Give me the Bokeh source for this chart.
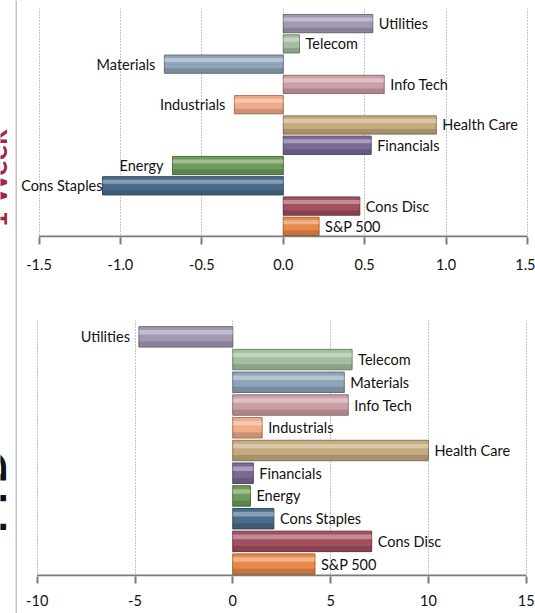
import math
import numpy as np
from bokeh.plotting import figure
from bokeh.layouts import column, row
from bokeh.models import Range1d, FixedTicker, NumeralTickFormatter, Label, LabelSet, ColumnDataSource, Span
from bokeh.core.properties import value
from bokeh.embed import file_html
from bokeh.resources import INLINE

# ---- data ----
categories = ["Utilities", "Telecom", "Materials", "Info Tech", "Industrials", "Health Care",
              "Financials", "Energy", "Cons Staples", "Cons Disc", "S&P 500"]
week_vals = [0.55, 0.10, -0.73, 0.62, -0.30, 0.94, 0.54, -0.68, -1.11, 0.47, 0.22]
ytd_vals = [-4.8, 6.1, 5.7, 5.9, 1.5, 10.0, 1.05, 0.9, 2.1, 7.1, 4.2]
colors = ["#a298b2", "#a3bf9f", "#8fa4b9", "#cc9ea6", "#f1ab88", "#c5ab7e",
          "#7b6a94", "#6e9a5a", "#4a6c8b", "#a24f5f", "#e8894a"]
week_ticks = [-1.5, -1.0, -0.5, 0.0, 0.5, 1.0, 1.5]
ytd_ticks = [-10, -5, 0, 5, 10, 15]

FONT = "Lato"
FS = "14.5px"
SIDE_W = 17
TOTAL_W = 535
AXIS_COLOR = "#7a7a7a"


def darker(hx, f=0.7):
    r, g, b = int(hx[1:3], 16), int(hx[3:5], 16), int(hx[5:7], 16)
    return "#%02x%02x%02x" % (int(r * f), int(g * f), int(b * f))


def make_panel(vals, ticks, fmt, height, top_border, bottom_border, px_first, px_last, top_pad, standoff):
    n = len(categories)
    ypos = np.arange(n)[::-1].astype(float)
    vals = np.array(vals, dtype=float)
    # frame spans from the gray border line to the right page edge; place ticks at the wanted pixels
    left_px, right_px = SIDE_W, TOTAL_W
    upp = (ticks[-1] - ticks[0]) / (px_last - px_first)
    x0 = ticks[0] - (px_first - left_px) * upp
    x1 = ticks[-1] + (right_px - px_last) * upp
    plot_h = height - top_border - bottom_border
    band_px = plot_h / (n + top_pad)
    y0 = -0.5 - 1.0 / band_px
    p = figure(width=TOTAL_W - SIDE_W, height=height, output_backend="svg", toolbar_location=None,
               x_range=Range1d(x0, x1), y_range=Range1d(y0, n - 0.5 + top_pad),
               min_border_left=0, min_border_right=0,
               min_border_top=top_border, min_border_bottom=bottom_border)
    p.outline_line_color = None
    p.background_fill_color = "white"
    p.border_fill_color = "white"
    p.yaxis.visible = False
    p.ygrid.visible = False
    p.xgrid.grid_line_color = "#8a8a8a"
    p.xgrid.grid_line_dash = "1 2"
    p.xgrid.grid_line_width = 1
    p.xaxis.ticker = FixedTicker(ticks=ticks)
    p.xaxis.formatter = NumeralTickFormatter(format=fmt)
    p.xaxis.axis_line_color = None
    p.xaxis.major_tick_line_color = AXIS_COLOR
    p.xaxis.major_tick_line_width = 2
    p.xaxis.major_tick_out = 7
    p.xaxis.major_tick_in = 0
    p.xaxis.minor_tick_line_color = None
    p.xaxis.major_label_standoff = standoff
    p.xaxis.major_label_text_font = FONT
    p.xaxis.major_label_text_font_size = FS
    p.xaxis.major_label_text_color = "#111111"

    # category axis line drawn between the first and last tick
    p.segment(x0=[ticks[0]], x1=[ticks[-1]], y0=[-0.5], y1=[-0.5], line_color=AXIS_COLOR, line_width=2)

    src = ColumnDataSource(dict(y=ypos, v=vals, c=colors, d=[darker(c) for c in colors],
                                yh=ypos + 0.2, yl=ypos - 0.32))
    p.hbar(y="y", left=0, right="v", height=0.9, fill_color="c", line_color="d", line_width=1, source=src)
    p.hbar(y="yh", left=0, right="v", height=0.2, fill_color="white", fill_alpha=0.35, line_color=None, source=src)
    p.hbar(y="yl", left=0, right="v", height=0.24, fill_color="black", fill_alpha=0.15, line_color=None, source=src)

    cats = np.array(categories)
    pos = vals >= 0
    neg = ~pos
    pos_src = ColumnDataSource(dict(x=vals[pos], y=ypos[pos], t=cats[pos]))
    neg_src = ColumnDataSource(dict(x=vals[neg], y=ypos[neg], t=cats[neg],
                                    xo=[0 if v < ticks[0] * 0.7 else -9 for v in vals[neg]]))
    p.add_layout(LabelSet(x="x", y="y", text="t", source=pos_src, x_offset=6, text_align="left",
                          text_baseline="middle", text_font=value(FONT), text_font_size=FS,
                          text_color="#111111"))
    p.add_layout(LabelSet(x="x", y="y", text="t", source=neg_src, x_offset="xo", text_align="right",
                          text_baseline="middle", text_font=value(FONT), text_font_size=FS,
                          text_color="#111111"))
    return p


p1 = make_panel(week_vals, week_ticks, "0.0", 300, 8, 63, 38.5, 527, 0.245, 14)
p2 = make_panel(ytd_vals, ytd_ticks, "0", 313, 20, 37, 36.7, 525.7, 0.22, 11)

# side strip: gray border line and the rotated panel titles (mostly cut off at the page edge)
side = figure(width=SIDE_W, height=613, output_backend="svg", toolbar_location=None,
              x_range=Range1d(0, SIDE_W), y_range=Range1d(0, 613),
              min_border_left=0, min_border_right=0, min_border_top=0, min_border_bottom=0)
side.axis.visible = False
side.grid.visible = False
side.outline_line_color = None
side.border_fill_color = "white"
side.add_layout(Span(location=16, dimension="height", line_color="#c4c4c4", line_width=2))
side.add_layout(Label(x=5 - 0.36 * 29, y=613 - 178, text="1 Week", angle=math.pi / 2,
                      text_align="center", text_baseline="middle", text_font=FONT, text_font_style="bold",
                      text_font_size="29px", text_color="#a3263b"))
side.add_layout(Label(x=5 - 0.36 * 46, y=613 - 495, text="YTD", angle=math.pi / 2,
                      text_align="center", text_baseline="middle", text_font=FONT, text_font_style="bold",
                      text_font_size="46px", text_color="#111111"))

lay = row(side, column(p1, p2, spacing=0), spacing=0)
open("out.html", "w").write(file_html(lay, INLINE))
